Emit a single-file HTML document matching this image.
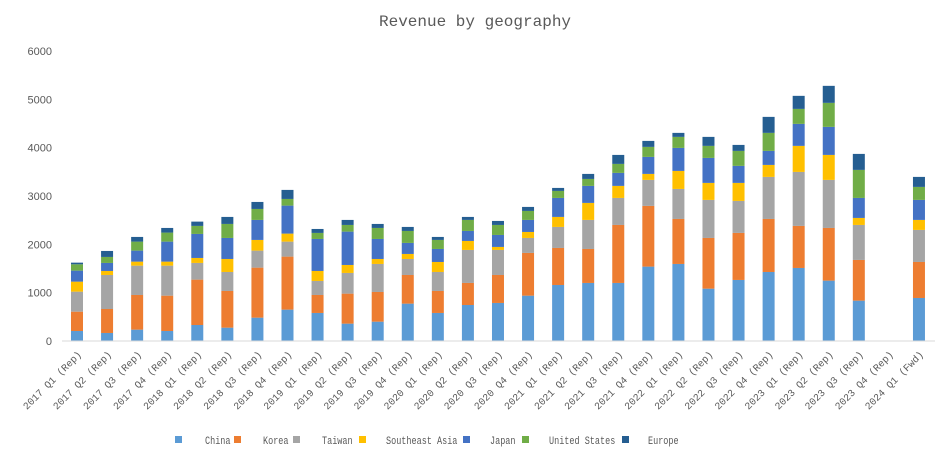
<!DOCTYPE html>
<html><head><meta charset="utf-8">
<style>
body{margin:0;background:#fff;}
svg{display:block;font-family:"Liberation Mono","Noto Sans CJK SC",monospace;}
</style></head>
<body>
<svg id="chart" width="950" height="459" xmlns="http://www.w3.org/2000/svg">
<text x="475" y="26" text-anchor="middle" font-size="16" fill="#595959">Revenue by geography</text>
<g id="yaxis"></g>
<g id="bars"></g>
<line x1="62" y1="341" x2="935" y2="341" stroke="#d9d9d9" stroke-width="1"/>
<g id="xaxis"></g>
<g id="legend"></g>
</svg>
<script>
const categories=["2017 Q1 (Rep)","2017 Q2 (Rep)","2017 Q3 (Rep)","2017 Q4 (Rep)","2018 Q1 (Rep)","2018 Q2 (Rep)","2018 Q3 (Rep)","2018 Q4 (Rep)","2019 Q1 (Rep)","2019 Q2 (Rep)","2019 Q3 (Rep)","2019 Q4 (Rep)","2020 Q1 (Rep)","2020 Q2 (Rep)","2020 Q3 (Rep)","2020 Q4 (Rep)","2021 Q1 (Rep)","2021 Q2 (Rep)","2021 Q3 (Rep)","2021 Q4 (Rep)","2022 Q1 (Rep)","2022 Q2 (Rep)","2022 Q3 (Rep)","2022 Q4 (Rep)","2023 Q1 (Rep)","2023 Q2 (Rep)","2023 Q3 (Rep)","2023 Q4 (Rep)","2024 Q1 (Fwd)"];
const seriesNames=["China","Korea","Taiwan","Southeast Asia","Japan","United States","Europe"];
const seriesColors=["#5b9bd5","#ed7d31","#a5a5a5","#ffc000","#4472c4","#70ad47","#255e91"];
const china=[207,166,235,207,331,276,483,649,580,359,400,773,580,745,787,938,1159,1201,1201,1539,1594,1083,1263,1428,1511,1249,835,0,890];
const korea=[400,496,717,731,939,759,1035,1097,372,621,614,593,455,456,579,884,766,703,1200,1256,931,1049,973,1097,870,1090,842,0,745];
const taiwan=[414,704,607,621,345,393,352,310,290,428,580,331,393,683,518,310,435,601,559,538,621,787,662,870,1117,994,724,0,663];
const seAsia=[207,83,83,83,103,269,221,166,207,165,103,104,207,186,62,124,207,352,249,124,373,352,373,248,539,517,145,0,207];
const japan=[228,166,228,414,497,435,414,579,662,690,414,228,269,207,248,249,393,352,269,352,476,517,352,290,455,580,414,0,414];
const us=[131,124,186,187,166,290,227,138,125,138,228,248,187,228,207,186,145,144,186,207,228,249,310,373,310,497,580,0,269];
const europe=[34,124,97,96,89,145,145,187,82,104,83,83,62,62,83,83,62,104,186,124,83,186,124,331,270,352,331,0,207];
const yTicks=[0,1000,2000,3000,4000,5000,6000];

const series=[china,korea,taiwan,seAsia,japan,us,europe];
const NS="http://www.w3.org/2000/svg";
const y0=341, yTop=51, yMax=6000;
function yScale(v){return y0-(v/yMax)*(y0-yTop);}
const xFirst=77, xStep=30.07;
function xScale(i){return xFirst+i*xStep;}
const barW=12;

const yaxis=document.getElementById('yaxis');
yTicks.forEach(t=>{
  const tx=document.createElementNS(NS,'text');
  tx.setAttribute('x',52);tx.setAttribute('y',yScale(t)+4);
  tx.setAttribute('text-anchor','end');tx.setAttribute('font-size','11');
  tx.setAttribute('fill','#595959');tx.setAttribute('font-family','Liberation Sans, sans-serif');
  tx.textContent=t;
  
  
  yaxis.appendChild(tx);
});

const bars=document.getElementById('bars');
categories.forEach((c,i)=>{
  let cum=0;
  series.forEach((s,k)=>{
    const v=s[i]; if(!v) return;
    const r=document.createElementNS(NS,'rect');
    r.setAttribute('x',xScale(i)-barW/2);
    r.setAttribute('y',yScale(cum+v));
    r.setAttribute('width',barW);
    r.setAttribute('height',yScale(cum)-yScale(cum+v));
    r.setAttribute('fill',seriesColors[k]);
    
    
    bars.appendChild(r);
    cum+=v;
  });
});

const xaxis=document.getElementById('xaxis');
categories.forEach((c,i)=>{
  const tx=document.createElementNS(NS,'text');
  const x=xScale(i)+5, y=355;
  tx.setAttribute('x',x);tx.setAttribute('y',y);
  tx.setAttribute('text-anchor','end');tx.setAttribute('font-size','10');
  tx.setAttribute('fill','#595959');
  tx.setAttribute('transform','rotate(-45 '+x+' '+y+')');
  tx.textContent=c;
  
  
  xaxis.appendChild(tx);
});

const legend=document.getElementById('legend');
const sqX=[175,234,293,359,463,522,622];
const txX=[205,263,322,386,490,549,648];
seriesNames.forEach((n,k)=>{
  const r=document.createElementNS(NS,'rect');
  r.setAttribute('x',sqX[k]);r.setAttribute('y',436);
  r.setAttribute('width',7);r.setAttribute('height',7);
  r.setAttribute('fill',seriesColors[k]);
  
  
  legend.appendChild(r);
  const tx=document.createElementNS(NS,'text');
  tx.setAttribute('x',txX[k]);tx.setAttribute('y',444);
  tx.setAttribute('font-size','11');tx.setAttribute('fill','#595959');
  tx.setAttribute('textLength',(n.length*5.1).toFixed(1));
  tx.setAttribute('lengthAdjust','spacingAndGlyphs');
  tx.textContent=n;
  
  
  legend.appendChild(tx);
});
</script>
</body></html>
